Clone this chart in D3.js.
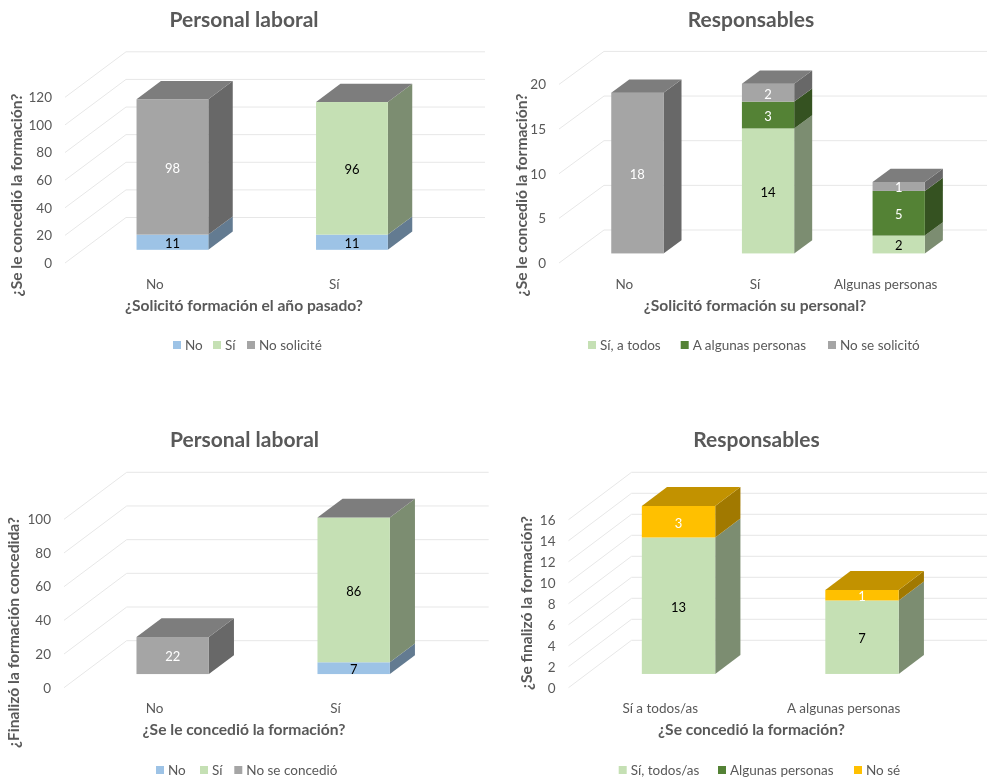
<!DOCTYPE html>
<html lang="es">
<head>
<meta charset="utf-8">
<title>Formación</title>
<script src="https://cdn.jsdelivr.net/npm/d3@7"></script>
<style>
  html, body { margin: 0; padding: 0; background: #fff; }
  svg { display: block; font-family: Lato, "Open Sans", sans-serif; filter: blur(0.4px); }
  .domain { display: none; }
  .tick text { fill: #595959; font-family: Lato, "Open Sans", sans-serif; font-size: 13.5px; }
</style>
</head>
<body>
<div id="chart"></div>
<script>
// Datos de cada gráfico
const cats1 = ["No", "Sí"];
const ticks1 = [0, 20, 40, 60, 80, 100, 120];
const names1 = ["No", "Sí", "No solicité"];
const no1 = [11, 11];
const si1 = [0, 96];
const noSolicite1 = [98, 0];

const cats2 = ["No", "Sí", "Algunas personas"];
const ticks2 = [0, 5, 10, 15, 20];
const names2 = ["Sí, a todos", "A algunas personas", "No se solicitó"];
const siTodos2 = [0, 14, 2];
const algunas2 = [0, 3, 5];
const noSolicito2 = [18, 2, 1];

const cats3 = ["No", "Sí"];
const ticks3 = [0, 20, 40, 60, 80, 100];
const names3 = ["No", "Sí", "No se concedió"];
const no3 = [0, 7];
const si3 = [0, 86];
const noConcedio3 = [22, 0];

const cats4 = ["Sí a todos/as", "A algunas personas"];
const ticks4 = [0, 2, 4, 6, 8, 10, 12, 14, 16];
const names4 = ["Sí, todos/as", "Algunas personas", "No sé"];
const siTodos4 = [13, 7];
const algunas4 = [0, 0];
const noSe4 = [3, 1];

// Colores de Excel
const BLUE = "#9dc3e6", LIGHT = "#c5e0b4", GREEN = "#548235", GRAY = "#a5a5a5", GOLD = "#ffc000";
const TEXT = "#595959";
const GRID = "#e7e7e7";
const WHITE_LABEL = [GRAY, GREEN, GOLD];

const svg = d3.select("#chart").append("svg")
    .attr("width", 987)
    .attr("height", 778);

function shade(color, k) {
    const c = d3.rgb(color);
    return d3.rgb(c.r * k, c.g * k, c.b * k).formatHex();
}

function drawChart(o) {
    const g = svg.append("g");

    const x = d3.scaleBand()
        .domain(o.cats)
        .range(o.xRange)
        .paddingInner(0.6)
        .paddingOuter(0.3);
    const band = d3.scaleBand()
        .domain(o.cats)
        .range(o.xRange);

    const y = d3.scaleLinear()
        .domain([0, o.ticks[o.ticks.length - 1]])
        .range(o.yRange);

    // profundidad de la caja: 0 delante, 1 en la pared del fondo
    const near = 0.29, far = 0.69;
    const px = (v, d) => v + d * o.dx;
    const py = (v, d) => y(v) + d * o.dy;
    const line = d3.line();

    // rejilla: suelo/lateral y pared del fondo
    o.ticks.forEach(t => {
        g.append("path")
            .attr("d", line([
                [o.xRange[0], py(t, 0)],
                [o.xRange[0] + o.dx, py(t, 1)],
                [o.xRange[1] + o.dx, py(t, 1)]
            ]))
            .attr("fill", "none")
            .attr("stroke", GRID)
            .attr("stroke-width", 1);
    });

    // columnas apiladas
    o.cats.forEach((cat, i) => {
        const left = x(cat);
        const right = left + x.bandwidth();
        let base = 0;
        o.series.forEach((s, j) => {
            const top = base + s.values[i];
            const isLast = j === o.series.length - 1;
            if (s.values[i] > 0) {
                g.append("path")
                    .attr("d", line([
                        [px(right, near), py(base, near)],
                        [px(right, far), py(base, far)],
                        [px(right, far), py(top, far)],
                        [px(right, near), py(top, near)]
                    ]))
                    .attr("fill", shade(s.color, 0.63));
                g.append("rect")
                    .attr("x", px(left, near))
                    .attr("y", py(top, near))
                    .attr("width", x.bandwidth())
                    .attr("height", py(base, near) - py(top, near))
                    .attr("fill", s.color);
            }
            if (isLast) {
                g.append("path")
                    .attr("d", line([
                        [px(left, near), py(top, near)],
                        [px(left, far), py(top, far)],
                        [px(right, far), py(top, far)],
                        [px(right, near), py(top, near)]
                    ]))
                    .attr("fill", shade(s.color, 0.76));
            }
            base = top;
        });
    });

    // etiquetas de datos, encima de todas las columnas
    o.cats.forEach((cat, i) => {
        let base = 0;
        o.series.forEach(s => {
            const v = s.values[i];
            if (v > 0) {
                g.append("text")
                    .attr("x", px(x(cat) + x.bandwidth() / 2, near))
                    .attr("y", py(base + v / 2, near))
                    .attr("dy", "0.45em")
                    .attr("text-anchor", "middle")
                    .attr("font-size", 13)
                    .attr("fill", WHITE_LABEL.includes(s.color) ? "#fff" : "#000")
                    .text(v);
            }
            base += v;
        });
    });

    // ejes
    g.append("g")
        .attr("transform", `translate(${o.xRange[0]},0)`)
        .call(d3.axisLeft(y).tickValues(o.ticks).tickSize(0).tickPadding(13));

    g.append("g")
        .attr("transform", `translate(0,${o.catY})`)
        .call(d3.axisBottom(band).tickSize(0).tickPadding(0));

    // títulos
    g.append("text")
        .attr("x", o.titleX)
        .attr("y", o.titleY)
        .attr("dy", "0.35em")
        .attr("text-anchor", "middle")
        .attr("font-size", 21)
        .attr("font-weight", 700)
        .attr("fill", TEXT)
        .text(o.title);

    g.append("text")
        .attr("x", o.xTitleX)
        .attr("y", o.xTitleY)
        .attr("dy", "0.35em")
        .attr("text-anchor", "middle")
        .attr("font-size", 15.6)
        .attr("font-weight", 700)
        .attr("fill", TEXT)
        .text(o.xTitle);

    g.append("text")
        .attr("transform", `translate(${o.yTitleX},${o.yTitleY}) rotate(-90)`)
        .attr("dy", "0.35em")
        .attr("text-anchor", "middle")
        .attr("font-size", 15.6)
        .attr("font-weight", 700)
        .attr("fill", TEXT)
        .text(o.yTitle);

    // leyenda
    o.series.forEach((s, j) => {
        g.append("rect")
            .attr("x", o.legendX[j])
            .attr("y", o.legendY - 4)
            .attr("width", 8)
            .attr("height", 8)
            .attr("fill", s.color);
        g.append("text")
            .attr("x", o.legendX[j] + 12)
            .attr("y", o.legendY)
            .attr("dy", "0.35em")
            .attr("font-size", 13.5)
            .attr("fill", TEXT)
            .text(s.name);
    });
}

drawChart({
    title: "Personal laboral", titleX: 244, titleY: 20,
    xTitle: "¿Solicitó formación el año pasado?", xTitleX: 244, xTitleY: 306,
    yTitle: "¿Se le concedió la formación?", yTitleX: 17, yTitleY: 195,
    cats: cats1, ticks: ticks1,
    series: [
        { name: names1[0], values: no1, color: BLUE },
        { name: names1[1], values: si1, color: LIGHT },
        { name: names1[2], values: noSolicite1, color: GRAY }
    ],
    xRange: [65, 424], yRange: [263, 97.3], dx: 61, dy: -45.5, catY: 279,
    legendX: [173, 213, 247], legendY: 345
});

drawChart({
    title: "Responsables", titleX: 751, titleY: 20,
    xTitle: "¿Solicitó formación su personal?", xTitleX: 755, xTitleY: 306,
    yTitle: "¿Se le concedió la formación?", yTitleX: 522, yTitleY: 195,
    cats: cats2, ticks: ticks2,
    series: [
        { name: names2[0], values: siTodos2, color: LIGHT },
        { name: names2[1], values: algunas2, color: GREEN },
        { name: names2[2], values: noSolicito2, color: GRAY }
    ],
    xRange: [559, 951], yRange: [263, 84.4], dx: 45, dy: -33, catY: 279,
    legendX: [588, 680.7, 828], legendY: 345
});

drawChart({
    title: "Personal laboral", titleX: 244.5, titleY: 440,
    xTitle: "¿Se le concedió la formación?", xTitleX: 244, xTitleY: 730,
    yTitle: "¿Finalizó la formación concedida?", yTitleX: 14, yTitleY: 632.5,
    cats: cats3, ticks: ticks3,
    series: [
        { name: names3[0], values: no3, color: BLUE },
        { name: names3[1], values: si3, color: LIGHT },
        { name: names3[2], values: noConcedio3, color: GRAY }
    ],
    xRange: [64, 426], yRange: [687.7, 519.3], dx: 62.7, dy: -47, catY: 703,
    legendX: [156, 200, 234.3], legendY: 770
});

drawChart({
    title: "Responsables", titleX: 756.5, titleY: 440,
    xTitle: "¿Se concedió la formación?", xTitleX: 751.5, xTitleY: 730,
    yTitle: "¿Se finalizó la formación?", yTitleX: 526.5, yTitleY: 603,
    cats: cats4, ticks: ticks4,
    series: [
        { name: names4[0], values: siTodos4, color: LIGHT },
        { name: names4[1], values: algunas4, color: GREEN },
        { name: names4[2], values: noSe4, color: GOLD }
    ],
    xRange: [568.5, 935.5], yRange: [687.7, 519.7], dx: 63, dy: -47.4, catY: 703,
    legendX: [618.7, 718, 854], legendY: 770
});
</script>
</body>
</html>
